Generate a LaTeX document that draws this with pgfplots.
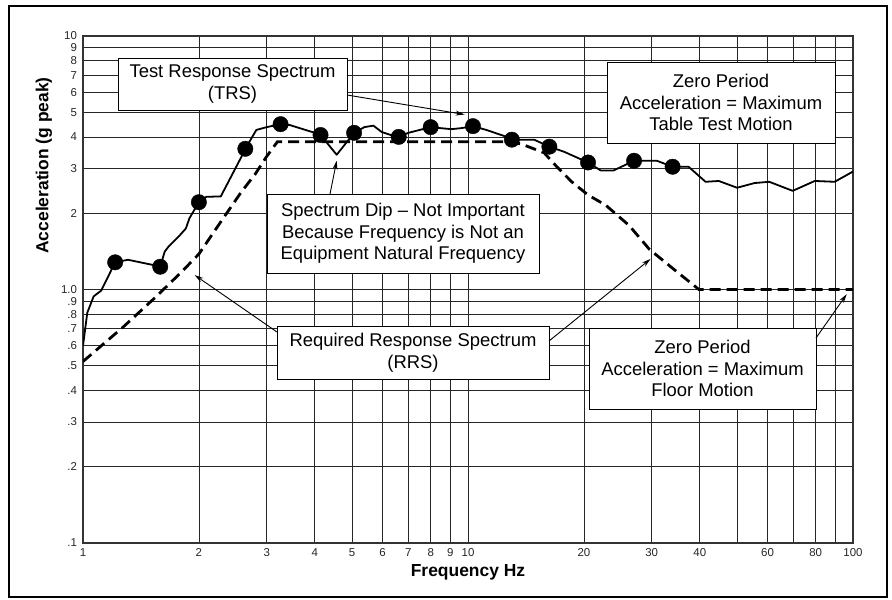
\documentclass[border=0pt]{standalone}
\usepackage{pgfplots}
\pgfplotsset{compat=1.18}
\usepackage{pgfplotstable}
\usepackage{fontspec}
\setmainfont{Liberation Sans}
\usetikzlibrary{arrows.meta}

\pgfplotstableread{
f a
1.0 0.60
1.026 0.81
1.066 0.94
1.115 0.99
1.212 1.28
1.309 1.31
1.518 1.25
1.587 1.23
1.63 1.41
1.67 1.48
1.78 1.63
1.85 1.74
1.89 1.91
2.0 2.21
2.09 2.32
2.28 2.33
2.58 3.34
2.64 3.59
2.82 4.26
3.0 4.37
3.26 4.49
3.45 4.45
4.0 4.15
4.14 4.07
4.56 3.40
5.06 4.15
5.38 4.37
5.68 4.43
5.97 4.18
6.39 4.04
6.61 4.00
7.0 4.15
8.0 4.37
8.49 4.33
9.05 4.29
9.6 4.33
10.3 4.41
11.16 4.26
12.37 4.04
13.0 3.90
14.85 3.90
16.27 3.66
17.8 3.49
20.5 3.17
22.1 2.95
23.9 2.95
27.0 3.22
30.95 3.22
34.0 3.05
37.4 3.05
41.4 2.66
44.8 2.68
50 2.52
55.5 2.63
60.6 2.66
69.7 2.45
79.6 2.68
89.6 2.66
100 2.92
}\trs

\pgfplotstableread{
f a
1.212 1.28
1.587 1.23
2.0 2.21
2.64 3.59
3.26 4.49
4.14 4.07
5.06 4.15
6.61 4.00
8.0 4.37
10.3 4.41
13.0 3.90
16.27 3.66
20.5 3.17
27.0 3.22
34.0 3.05
}\trsmarks

\pgfplotstableread{
f a
1.0 0.52
1.27 0.71
1.54 0.93
1.8 1.17
2.0 1.38
2.28 1.85
2.58 2.43
2.8 2.85
3.0 3.35
3.2 3.83
12.4 3.83
13.7 3.76
15.77 3.46
17.08 3.03
18.6 2.66
20.5 2.36
22.8 2.15
26.2 1.79
29.6 1.44
34.4 1.195
39.8 1.0
100 1.0
}\rrs

\newcommand{\annfont}{\fontsize{18.5}{21.7}\selectfont}

\begin{document}
\begin{tikzpicture}
\useasboundingbox (-83bp,-57bp) rectangle (809bp,543bp);
\begin{axis}[
  xmode=log, ymode=log,
  scale only axis, width=770bp, height=507bp,
  xmin=1, xmax=100, ymin=0.1, ymax=10,
  xtick={1,2,3,4,5,6,7,8,9,10,20,30,40,50,60,70,80,90,100},
  xticklabels={1,2,3,4,5,6,7,8,9,10,20,30,40,,60,,80,,100},
  ytick={0.1,0.2,0.3,0.4,0.5,0.6,0.7,0.8,0.9,1,2,3,4,5,6,7,8,9,10},
  yticklabels={.1,.2,.3,.4,.5,.6,.7,.8,.9,1.0,2,3,4,5,6,7,8,9,10},
  grid=major,
  major grid style={black!85, line width=0.7bp},
  minor tick num=0,
  major tick length=0pt, minor tick length=0pt,
  axis line style={black!80, line width=1.4bp},
  tick label style={font=\fontsize{11.5}{13}\selectfont, text=black!85},
  xticklabel style={yshift=-2bp},
  yticklabel style={xshift=-2.5bp},
]
\addplot[black, line width=1.8bp, line join=round] table[x=f,y=a] {\trs};
\addplot[black, line width=2.8bp, dash pattern=on 11bp off 6bp] table[x=f,y=a] {\rrs};
\addplot[only marks, mark=*, mark size=7.7bp, mark options={fill=black, draw=black}] table[x=f,y=a] {\trsmarks};
\coordinate (tTRS) at (axis cs:9.8,4.9);
\coordinate (tDip) at (axis cs:4.56,3.22);
\coordinate (tRRSa) at (axis cs:1.95,1.14);
\coordinate (tRRSb) at (axis cs:29.8,1.32);
\coordinate (tFloor) at (axis cs:96.3,0.958);
\end{axis}

% outer frame
\draw[black, line width=2.5bp] (-74bp,-54bp) rectangle (804bp,537bp);

% annotation boxes
\tikzset{ann/.style={draw=black, line width=0.9bp, fill=white},
         arr/.style={black, line width=0.9bp, -{Stealth[length=9bp,width=5bp]}}}
\draw[ann] (35bp,433bp) rectangle (264bp,485bp);
\node[align=center, font=\annfont] at (149.5bp,459bp) {Test Response Spectrum\\(TRS)};
\draw[arr] (264bp,448bp) -- (tTRS);

\draw[ann] (524bp,400bp) rectangle (752bp,481bp);
\node[align=center, font=\annfont] at (638bp,440.5bp) {Zero Period\\Acceleration = Maximum\\Table Test Motion};

\draw[ann] (184bp,270bp) rectangle (456bp,349bp);
\node[align=center, font=\annfont] at (320bp,309.5bp) {Spectrum Dip -- Not Important\\Because Frequency is Not an\\Equipment Natural Frequency};
\draw[arr] (247bp,349bp) -- (tDip);

\draw[ann] (194bp,164bp) rectangle (466bp,217bp);
\node[align=center, font=\annfont] at (330bp,190.5bp) {Required Response Spectrum\\(RRS)};
\draw[arr] (194bp,211bp) -- (tRRSa);
\draw[arr] (466bp,202bp) -- (tRRSb);

\draw[ann] (506bp,134bp) rectangle (733bp,215bp);
\node[align=center, font=\annfont] at (619.5bp,174.5bp) {Zero Period\\Acceleration = Maximum\\Floor Motion};
\draw[arr] (733bp,205bp) -- (tFloor);

% axis titles
\node[rotate=90, font=\fontsize{17.5}{20}\selectfont\bfseries] at (-39bp,377.5bp) {Acceleration (g peak)};
\node[font=\fontsize{17.5}{20}\selectfont\bfseries] at (385bp,-29bp) {Frequency Hz};
\end{tikzpicture}
\end{document}
